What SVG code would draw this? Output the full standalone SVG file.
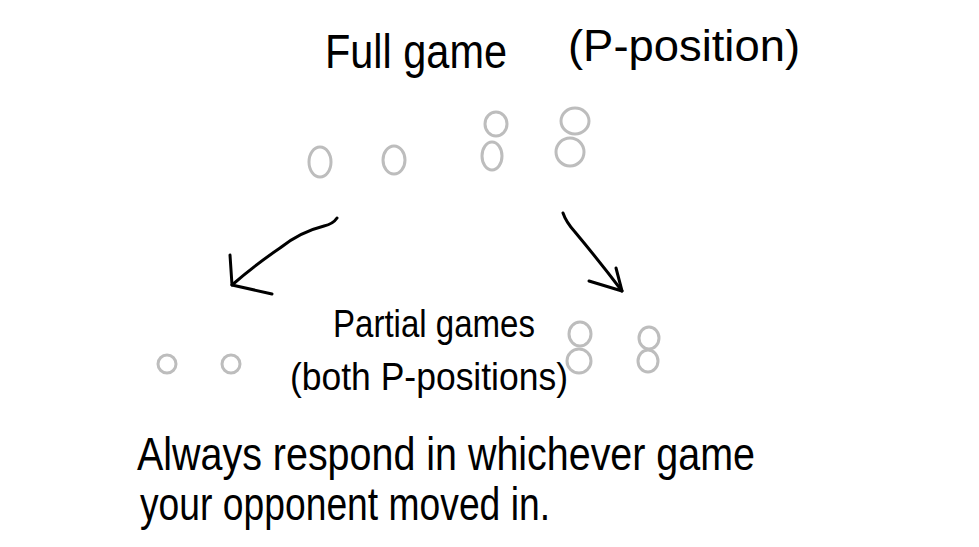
<svg xmlns="http://www.w3.org/2000/svg" width="979" height="547" viewBox="0 0 979 547">
<style>
.t{font-family:"Liberation Sans",Arial,sans-serif;fill:#000;}
.c{fill:none;stroke:#bdbdbd;stroke-width:3;}
.a{fill:none;stroke:#000;stroke-width:3;stroke-linecap:round;stroke-linejoin:round;}
</style>
<rect width="979" height="547" fill="#fff"/>
<g id="full-game">
<text class="t" x="325" y="68" font-size="48" textLength="182" lengthAdjust="spacingAndGlyphs">Full game</text>
<text class="t" x="568" y="61" font-size="44" textLength="232" lengthAdjust="spacingAndGlyphs">(P-position)</text>
<ellipse class="c" cx="320" cy="162" rx="11" ry="15"/>
<ellipse class="c" cx="394" cy="160" rx="11" ry="14"/>
<ellipse class="c" cx="496" cy="124" rx="11" ry="12"/>
<ellipse class="c" cx="492" cy="156" rx="10" ry="14"/>
<ellipse class="c" cx="575" cy="121" rx="14" ry="13"/>
<ellipse class="c" cx="570" cy="152" rx="14" ry="14"/>
</g>
<g id="partial-games">
<text class="t" x="333" y="337" font-size="38" textLength="202" lengthAdjust="spacingAndGlyphs">Partial games</text>
<text class="t" x="290" y="390" font-size="38" textLength="278" lengthAdjust="spacingAndGlyphs">(both P-positions)</text>
<ellipse class="c" cx="167" cy="364" rx="9" ry="9"/>
<ellipse class="c" cx="231" cy="364" rx="9" ry="9"/>
<ellipse class="c" cx="580" cy="334" rx="11" ry="12"/>
<ellipse class="c" cx="579" cy="361" rx="12" ry="12"/>
<ellipse class="c" cx="649" cy="338" rx="10" ry="11"/>
<ellipse class="c" cx="648" cy="361" rx="10" ry="11"/>
</g>
<g id="connectors">
<path class="a" d="M337,218 Q333,224 324,226 Q300,232 280,248 Q255,265 232,285"/>
<path class="a" d="M230,255 L232,285 L272,294"/>
<path class="a" d="M563,213 Q566,222 575,232 Q600,262 622,291"/>
<path class="a" d="M616,268 L622,291 L589,281"/>
</g>
<g id="caption">
<text class="t" x="137" y="470" font-size="46" textLength="618" lengthAdjust="spacingAndGlyphs">Always respond in whichever game</text>
<text class="t" x="140" y="520" font-size="46" textLength="410" lengthAdjust="spacingAndGlyphs">your opponent moved in.</text>
</g>
</svg>
